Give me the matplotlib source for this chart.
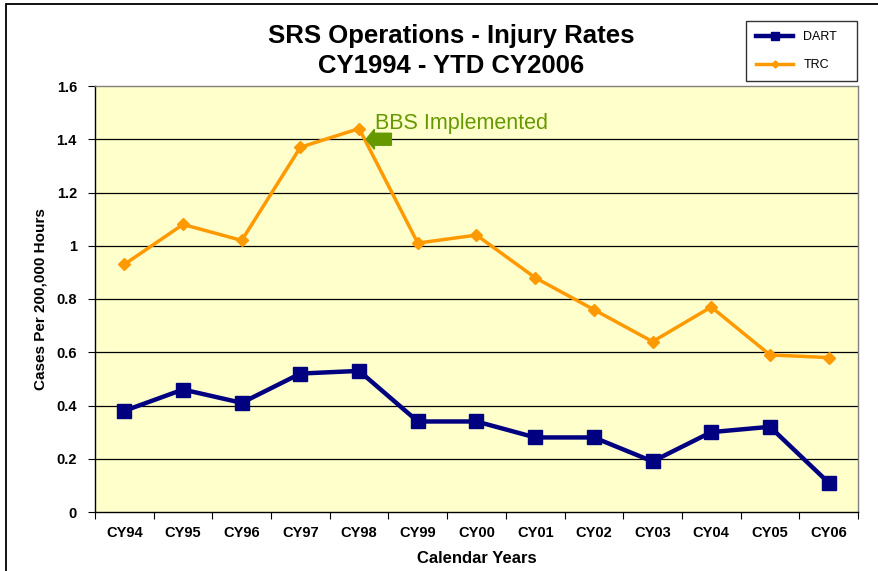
import matplotlib; matplotlib.use("Agg")
import matplotlib.pyplot as plt
from matplotlib.patches import Rectangle, FancyArrow

years = ["CY94", "CY95", "CY96", "CY97", "CY98", "CY99", "CY00",
         "CY01", "CY02", "CY03", "CY04", "CY05", "CY06"]
dart = [0.38, 0.46, 0.41, 0.52, 0.53, 0.34, 0.34, 0.28, 0.28, 0.19, 0.30, 0.32, 0.11]
trc = [0.93, 1.08, 1.02, 1.37, 1.44, 1.01, 1.04, 0.88, 0.76, 0.64, 0.77, 0.59, 0.58]
yticks = [0, 0.2, 0.4, 0.6, 0.8, 1, 1.2, 1.4, 1.6]

plt.rcParams["font.family"] = ["Liberation Sans", "DejaVu Sans"]

W, H = 879, 571
fig = plt.figure(figsize=(W/100, H/100), dpi=100)
fig.patch.set_facecolor("white")
# outer frame (cut at right/bottom like the screenshot)
fig.patches.append(Rectangle((6/W, -0.1), 2, 1 - 4/H + 0.1, transform=fig.transFigure,
                             fill=False, ec="black", lw=1.3))

ax = fig.add_axes([95/W, 1 - 512/H, (858-95)/W, (512-86)/H])
ax.set_facecolor("#FFFFCC")
x = list(range(len(years)))
ax.set_xlim(-0.5, len(years) - 0.5)
ax.set_ylim(0, 1.6)
for v in yticks[1:-1]:
    ax.axhline(v, color="black", lw=0.9, zorder=1)

ax.plot(x, trc, color="#FF9900", lw=2.5, marker="D", ms=6, mec="#FF9900", zorder=3, label="TRC")
ax.plot(x, dart, color="#000080", lw=3.2, marker="s", ms=10, mec="#000080", zorder=4, label="DART")

for s in ax.spines.values():
    s.set_color("#808080"); s.set_linewidth(1)
ax.spines["left"].set_color("black"); ax.spines["bottom"].set_color("black")

ax.set_yticks(yticks)
ax.set_yticklabels(["0", "0.2", "0.4", "0.6", "0.8", "1", "1.2", "1.4", "1.6"],
                   fontsize=10.5, fontweight="bold")
ax.set_xticks([i - 0.5 for i in range(len(years) + 1)], minor=False)
ax.set_xticklabels([])
ax.set_xticks(x, minor=True)
ax.set_xticklabels(years, minor=True, fontsize=10.5, fontweight="bold")
ax.tick_params(axis="x", which="minor", length=0, pad=10)
ax.tick_params(axis="x", which="major", length=5, direction="out")
ax.tick_params(axis="y", length=5, direction="out", pad=8)

ax.set_xlabel("Calendar Years", fontsize=12, fontweight="bold", labelpad=8)
ax.set_ylabel("Cases Per 200,000 Hours", fontsize=11, fontweight="bold", labelpad=6)

fig.text(451/W, 1 - 36/H, "SRS Operations - Injury Rates", ha="center", va="center",
         fontsize=18.5, fontweight="bold")
fig.text(451/W, 1 - 66/H, "CY1994 - YTD CY2006", ha="center", va="center",
         fontsize=18.5, fontweight="bold")

# annotation
ax.text(4.27, 1.46, "BBS Implemented", color="#669900", fontsize=15.5,
        va="center", ha="left")
ax.add_patch(FancyArrow(4.55, 1.40, -0.43, 0, width=0.045, head_width=0.075,
                        head_length=0.14, length_includes_head=True,
                        color="#669900", zorder=5))

handles, labels = ax.get_legend_handles_labels()
leg = fig.legend(handles[::-1], labels[::-1], loc="upper left",
                 bbox_to_anchor=(746/W, 1 - 83/H, (857-746)/W, 62/H), mode="expand",
                 frameon=True, fancybox=False, edgecolor="black", fontsize=9,
                 handlelength=3, labelspacing=1.3, borderpad=0.8, borderaxespad=0,
                 markerscale=0.6)
leg.get_frame().set_linewidth(1)

fig.savefig("out.png", dpi=100)
